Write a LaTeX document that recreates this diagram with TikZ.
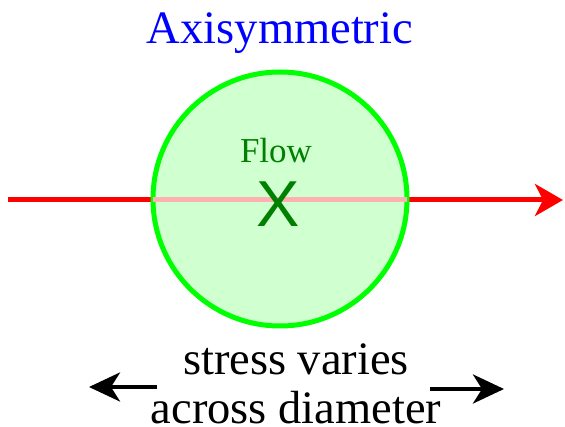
\documentclass[tikz,border=0pt]{standalone}
\usepackage{fontspec}
\setmainfont{Liberation Serif}
\newfontfamily\crossfont{Liberation Sans}
\usetikzlibrary{arrows.meta}
\definecolor{ringgreen}{RGB}{0,255,0}
\definecolor{pipefill}{RGB}{208,255,208}
\definecolor{diamline}{RGB}{255,176,176}
\definecolor{flowgreen}{RGB}{0,128,0}
\begin{document}
\begin{tikzpicture}[x=1pt,y=-1pt,
	flowline/.style={red,line width=5pt},
	sidearrow/.style={line width=4pt,-{Stealth[length=31pt,width=29pt,inset=9pt]}}]
	\useasboundingbox (0,0) rectangle (565,427);
	\node[blue,font=\fontsize{46.5}{50}\selectfont,anchor=base] (title) at (280,44) {Axisymmetric};
	\coordinate (in) at (8,200);
	\coordinate (out) at (563,200);
	\draw[flowline,-{Stealth[length=28pt,width=32pt,inset=8pt]}] (in) -- (out);
	\node[circle,draw=ringgreen,fill=pipefill,line width=5pt,minimum size=254pt,inner sep=0pt,outer sep=0pt] (pipe) at (280,199) {};
	\draw[line width=5pt,diamline] (pipe.west |- in) -- (pipe.east |- in);
	\node[flowgreen,font=\rmfamily\fontsize{35}{40}\selectfont,anchor=base] (flow) at (276,163) {Flow};
	\node[flowgreen,font=\crossfont\fontsize{65}{70}\selectfont,anchor=base] (cross) at (278,227) {X};
	\node[align=center,font=\fontsize{46.5}{49}\selectfont,anchor=base] (stress) at (296,424) {stress varies\\across diameter};
	% arrows either side of the text
	\coordinate (lefttail) at (157,387);
	\coordinate (lefthead) at (89,387);
	\coordinate (righttail) at (430,389);
	\coordinate (righthead) at (504,389);
	\draw[sidearrow] (lefttail) -- (lefthead);
	\draw[sidearrow] (righttail) -- (righthead);
\end{tikzpicture}
\end{document}
